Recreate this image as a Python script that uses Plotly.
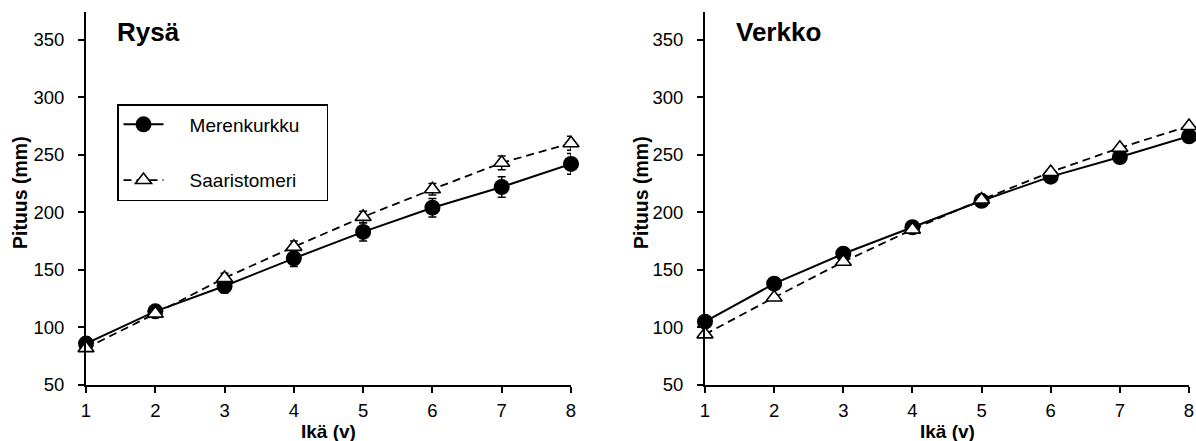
import plotly.graph_objects as go

ages = [1, 2, 3, 4, 5, 6, 7, 8]

# Rysä (trap net)
rysa_merenkurkku = [86, 114, 136, 160, 183, 204, 222, 242]
rysa_merenkurkku_err = [3, 4, 6, 7, 8, 8, 9, 9]
rysa_saaristomeri = [82, 112, 143, 170, 196, 220, 243, 260]
rysa_saaristomeri_err = [2, 3, 4, 5, 5, 5, 6, 6]

# Verkko (gill net)
verkko_merenkurkku = [105, 138, 164, 187, 210, 231, 248, 266]
verkko_saaristomeri = [94, 126, 157, 185, 211, 235, 256, 275]

panel_titles = ["Rysä", "Verkko"]
series_names = ["Merenkurkku", "Saaristomeri"]
y_ticks = [50, 100, 150, 200, 250, 300, 350]

W, H = 1196, 441
FONT = "Arial, Liberation Sans, sans-serif"
NB = "\u00a0"

fig = go.Figure()

def legend_label(name):
    # non-breaking spaces only pad the legend entry to match the boxed legend
    return NB * 4 + name + NB * 4

def add_panel(xa, ya, mer, sar, mer_err, sar_err, show_legend):
    fig.add_trace(go.Scatter(
        x=ages, y=mer, name=legend_label(series_names[0]), xaxis=xa, yaxis=ya,
        mode="lines+markers", legendgroup="m", showlegend=show_legend,
        line=dict(color="black", width=2),
        marker=dict(symbol="circle", size=16, color="black",
                    line=dict(color="black", width=0)),
        error_y=dict(type="data", array=mer_err, visible=mer_err is not None,
                     color="black", thickness=1.5, width=4),
        cliponaxis=False,
    ))
    fig.add_trace(go.Scatter(
        x=ages, y=sar, name=legend_label(series_names[1]), xaxis=xa, yaxis=ya,
        mode="lines+markers", legendgroup="s", showlegend=show_legend,
        line=dict(color="black", width=1.8, dash="8px,5px"),
        marker=dict(symbol="triangle-up", size=14, color="white",
                    line=dict(color="black", width=1.6)),
        error_y=dict(type="data", array=sar_err, visible=sar_err is not None,
                     color="black", thickness=1.5, width=4),
        cliponaxis=False,
    ))

add_panel("x", "y", rysa_merenkurkku, rysa_saaristomeri,
          rysa_merenkurkku_err, rysa_saaristomeri_err, True)
add_panel("x2", "y2", verkko_merenkurkku, verkko_saaristomeri, None, None, False)

ydom = [56 / H, 429 / H]
xdoms = [[86 / W, 571 / W], [705 / W, 1189 / W]]

axis_common = dict(
    showline=True, linecolor="black", linewidth=2, mirror=False,
    ticks="outside", ticklen=6, tickwidth=1.5, tickcolor="black",
    showgrid=False, zeroline=False, automargin=False,
    tickfont=dict(family=FONT, size=18.5, color="black"),
)

layout = dict(
    width=W, height=H, autosize=False,
    margin=dict(l=0, r=0, t=0, b=0, pad=0),
    paper_bgcolor="white", plot_bgcolor="white",
    font=dict(family=FONT, color="black"),
    legend=dict(
        x=117 / W, y=1 - 104 / H, xanchor="left", yanchor="top",
        bordercolor="black", borderwidth=1.5, bgcolor="white",
        font=dict(family=FONT, size=19, color="black"),
        traceorder="grouped", tracegroupgap=28,
        itemwidth=40,
    ),
)
for i, (xa, ya) in enumerate([("xaxis", "yaxis"), ("xaxis2", "yaxis2")]):
    anchor_y = "y" if i == 0 else "y2"
    anchor_x = "x" if i == 0 else "x2"
    layout[xa] = dict(axis_common, domain=xdoms[i], range=[1, 8], anchor=anchor_y,
                      tickvals=ages, ticklabelstandoff=2)
    layout[ya] = dict(axis_common, domain=ydom, range=[50, 374], anchor=anchor_x,
                      tickvals=y_ticks, ticklabelstandoff=10)

fig.update_layout(**layout)

annotations = []
for i, t in enumerate(panel_titles):
    xl = [115, 734][i]
    annotations.append(dict(text=f"<b>{t}</b>", x=xl / W, y=1 - 32 / H, xref="paper", yref="paper",
                            xanchor="left", yanchor="middle", showarrow=False,
                            font=dict(family=FONT, size=26, color="black")))
    xc = (xdoms[i][0] + xdoms[i][1]) / 2
    annotations.append(dict(text="<b>Ikä (v)</b>", x=xc, y=1 - 431 / H, xref="paper", yref="paper",
                            xanchor="center", yanchor="middle", showarrow=False,
                            font=dict(family=FONT, size=19, color="black")))
    yc = [20, 641][i]
    annotations.append(dict(text="<b>Pituus (mm)</b>", x=yc / W, y=1 - 193 / H, xref="paper", yref="paper",
                            xanchor="center", yanchor="middle", showarrow=False, textangle=-90,
                            font=dict(family=FONT, size=19.5, color="black")))
fig.update_layout(annotations=annotations)

fig.write_html("out.html")
